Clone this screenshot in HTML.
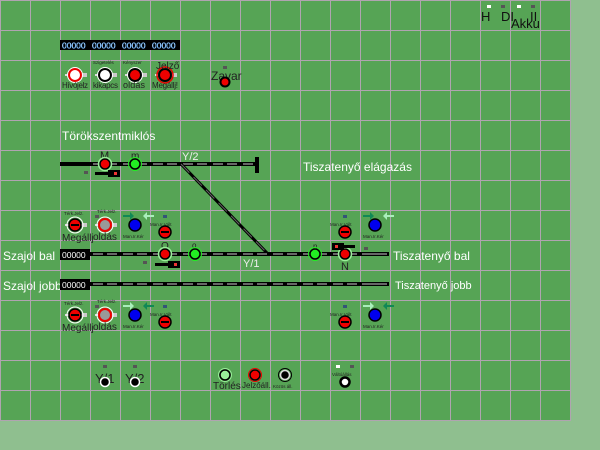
<!DOCTYPE html>
<html><head><meta charset="utf-8"><style>
html,body{margin:0;padding:0;background:#8fbf8f;width:600px;height:450px;overflow:hidden}
svg{display:block}
text{font-family:"Liberation Sans",sans-serif}
</style></head><body>
<svg width="600" height="450" viewBox="0 0 600 450" xmlns="http://www.w3.org/2000/svg">
<defs>
<g id="tr"><line x1="0" y1="0" x2="30" y2="0" stroke="#000" stroke-width="4"/><line x1="3" y1="0" x2="13" y2="0" stroke="#666" stroke-width="2"/><line x1="17" y1="0" x2="27" y2="0" stroke="#666" stroke-width="2"/></g>
<g id="sig"><line x1="-10" y1="0" x2="10" y2="0" stroke="#ddd" stroke-width="2"/><rect x="7" y="-2" width="5" height="4" fill="#ccc"/></g>
<g id="bar"><circle r="6" fill="#e00" stroke="#000" stroke-width="1.5"/><rect x="-4" y="-1" width="8" height="2" fill="#000"/></g>
</defs>
<rect x="0" y="0" width="571" height="421" fill="#56a455"/>
<path stroke="#b0a4b0" stroke-width="1" fill="none" d="M0.5 0V421M30.5 0V421M60.5 0V421M90.5 0V421M120.5 0V421M150.5 0V421M180.5 0V421M210.5 0V421M240.5 0V421M270.5 0V421M300.5 0V421M330.5 0V421M360.5 0V421M390.5 0V421M420.5 0V421M450.5 0V421M480.5 0V421M510.5 0V421M540.5 0V421M570.5 0V421M0 0.5H571M0 30.5H571M0 60.5H571M0 90.5H571M0 120.5H571M0 150.5H571M0 180.5H571M0 210.5H571M0 240.5H571M0 270.5H571M0 300.5H571M0 330.5H571M0 360.5H571M0 390.5H571M0 420.5H571"/>

<!-- top right -->
<rect x="487" y="5" width="4" height="3" fill="#fff"/><rect x="501" y="5" width="4" height="3" fill="#555"/>
<rect x="517" y="5" width="4" height="3" fill="#fff"/><rect x="531" y="5" width="4" height="3" fill="#555"/>
<text x="481" y="21" font-size="13" fill="#111">H</text>
<text x="501" y="21" font-size="13" fill="#111">DI</text>
<text x="530" y="21" font-size="13" fill="#111">II</text>
<text x="511" y="28" font-size="13" fill="#111">Akku</text>

<!-- counters -->
<rect x="60" y="40" width="120" height="10" fill="#000"/>
<g font-size="8.5" fill="#fff" stroke="#39f" stroke-width="0.3">
<text x="62" y="48.5">00000</text><text x="92" y="48.5">00000</text><text x="122" y="48.5">00000</text><text x="152" y="48.5">00000</text>
</g>

<!-- button row -->
<use href="#sig" x="75" y="75"/><circle cx="75" cy="75" r="6" fill="#fff" stroke="#e00" stroke-width="2"/><circle cx="75" cy="75" r="7.5" fill="none" stroke="#fff" stroke-width="1"/>
<use href="#sig" x="105" y="75"/><circle cx="105" cy="75" r="6" fill="#fff" stroke="#000" stroke-width="2"/><circle cx="105" cy="75" r="7.5" fill="none" stroke="#fff" stroke-width="1"/>
<use href="#sig" x="135" y="75"/><circle cx="135" cy="75" r="6" fill="#e00" stroke="#000" stroke-width="2"/><circle cx="135" cy="75" r="7.5" fill="none" stroke="#fff" stroke-width="1"/>
<use href="#sig" x="165" y="75"/><circle cx="165" cy="75" r="6" fill="#e00" stroke="#000" stroke-width="2"/><circle cx="165" cy="75" r="8" fill="none" stroke="#e00" stroke-width="1.5"/>
<g font-size="8" fill="#222"><text x="62" y="88" textLength="26">Hívójelz</text><text x="93" y="88" textLength="25">kikapcs</text><text x="123" y="88" font-size="9" textLength="22">oldás</text><text x="152" y="88" textLength="26">Megállj!</text></g>
<g font-size="4.5" fill="#222"><text x="93" y="64">Szigetelés</text><text x="123" y="64">Kényszer</text></g>
<text x="156" y="69" font-size="10" fill="#222">Jelző</text>
<rect x="223" y="66" width="4" height="3" fill="#555"/>
<text x="211" y="80" font-size="12" fill="#222">Zavar</text>
<circle cx="225" cy="82" r="4.5" fill="#e00" stroke="#000" stroke-width="2"/>

<text x="62" y="140" font-size="12" fill="#fff">Törökszentmiklós</text>
<text x="303" y="171" font-size="12" fill="#fff">Tiszatenyő elágazás</text>

<!-- top track -->
<line x1="60" y1="164" x2="90" y2="164" stroke="#000" stroke-width="4"/>
<use href="#tr" x="90" y="164"/><use href="#tr" x="120" y="164"/><use href="#tr" x="150" y="164"/><use href="#tr" x="180" y="164"/><use href="#tr" x="210" y="164"/>
<line x1="240" y1="164" x2="258" y2="164" stroke="#000" stroke-width="4"/><line x1="243" y1="164" x2="253" y2="164" stroke="#666" stroke-width="2"/>
<rect x="255" y="157" width="4" height="16" fill="#000"/>
<line x1="181" y1="164" x2="268" y2="254" stroke="#000" stroke-width="3"/>
<line x1="181" y1="164" x2="268" y2="254" stroke="#666" stroke-width="1" stroke-dasharray="12 6"/>
<text x="182" y="160" font-size="11" fill="#eee" font-family="Liberation Mono">Y/2</text>
<text x="100" y="159" font-size="11" fill="#222">M</text><text x="131" y="159" font-size="10" fill="#222">m</text>
<circle cx="105" cy="164" r="5" fill="#e00" stroke="#000" stroke-width="1.5"/><circle cx="105" cy="164" r="6.5" fill="none" stroke="#9e9" stroke-width="1.5"/>
<circle cx="135" cy="164" r="5" fill="#2e2" stroke="#000" stroke-width="1.5"/><circle cx="135" cy="164" r="6.5" fill="none" stroke="#2e2" stroke-width="1"/>
<rect x="84" y="171" width="4" height="3" fill="#555"/>
<rect x="95" y="172" width="25" height="3" fill="#000"/><rect x="108" y="170" width="12" height="7" fill="#000"/><rect x="114" y="172" width="3" height="3" fill="#e33"/>

<!-- upper controls row -->
<g font-size="4.5" fill="#222"><text x="64" y="215">Térk.Jelz.</text><text x="97" y="213">Térk.Jelz.</text><text x="150" y="226">Man.Ir.Vált</text><text x="123" y="238">Man.Ir.Kér</text><text x="330" y="226">Man.Ir.Vált</text><text x="363" y="238">Man.Ir.Kér</text></g>
<use href="#sig" x="75" y="225"/><use href="#bar" x="75" y="225"/><circle cx="75" cy="225" r="8" fill="none" stroke="#fff" stroke-width="1"/>
<use href="#sig" x="105" y="225"/><circle cx="105" cy="225" r="6" fill="#999" stroke="#e00" stroke-width="2"/><circle cx="105" cy="225" r="8" fill="none" stroke="#fff" stroke-width="1"/>
<text x="62" y="241" font-size="10" fill="#222">Megállj</text><text x="93" y="240" font-size="10" fill="#222">oldás</text>
<rect x="95" y="215" width="4" height="3" fill="#555"/>
<circle cx="135" cy="225" r="6" fill="#00e" stroke="#000" stroke-width="1.5"/>
<path d="M123 215h7v-3l4 4-4 4v-3h-7z" fill="#185"/><path d="M154 215h-7v-3l-4 4 4 4v-3h7z" fill="#aeb"/>
<rect x="163" y="215" width="4" height="3" fill="#357"/>
<use href="#bar" x="165" y="232"/>
<rect x="343" y="215" width="4" height="3" fill="#357"/>
<use href="#bar" x="345" y="232"/>
<circle cx="375" cy="225" r="6" fill="#00e" stroke="#000" stroke-width="1.5"/>
<path d="M363 215h7v-3l4 4-4 4v-3h-7z" fill="#185"/><path d="M394 215h-7v-3l-4 4 4 4v-3h7z" fill="#aeb"/>

<!-- middle track -->
<text x="3" y="260" font-size="12" fill="#fff">Szajol bal</text>
<rect x="60" y="249" width="30" height="11" fill="#000"/><text x="62" y="258" font-size="8.5" fill="#fff">00000</text>
<use href="#tr" x="90" y="254"/><use href="#tr" x="120" y="254"/><use href="#tr" x="150" y="254"/><use href="#tr" x="180" y="254"/><use href="#tr" x="210" y="254"/><use href="#tr" x="240" y="254"/><use href="#tr" x="270" y="254"/><use href="#tr" x="300" y="254"/><use href="#tr" x="330" y="254"/>
<line x1="360" y1="254" x2="389" y2="254" stroke="#000" stroke-width="4"/><line x1="362" y1="254" x2="387" y2="254" stroke="#666" stroke-width="2"/>
<text x="161" y="249" font-size="10" fill="#222">O</text><text x="192" y="248" font-size="8" fill="#222">o</text>
<circle cx="165" cy="254" r="5" fill="#e00" stroke="#000" stroke-width="1.5"/><circle cx="165" cy="254" r="6.5" fill="none" stroke="#9e9" stroke-width="1.5"/>
<circle cx="195" cy="254" r="5" fill="#2e2" stroke="#000" stroke-width="1.5"/><circle cx="195" cy="254" r="6.5" fill="none" stroke="#2e2" stroke-width="1"/>
<rect x="143" y="261" width="4" height="3" fill="#555"/>
<rect x="155" y="263" width="25" height="3" fill="#000"/><rect x="168" y="261" width="12" height="7" fill="#000"/><rect x="174" y="263" width="3" height="3" fill="#e33"/>
<text x="243" y="267" font-size="11" fill="#eee" font-family="Liberation Mono">Y/1</text>
<text x="313" y="249" font-size="8" fill="#222">n</text>
<circle cx="315" cy="254" r="5" fill="#2e2" stroke="#000" stroke-width="1.5"/><circle cx="315" cy="254" r="6.5" fill="none" stroke="#2e2" stroke-width="1"/>
<circle cx="345" cy="254" r="5" fill="#e00" stroke="#000" stroke-width="1.5"/><circle cx="345" cy="254" r="6.5" fill="none" stroke="#9e9" stroke-width="1.5"/>
<text x="341" y="270" font-size="11" fill="#222">N</text>
<rect x="332" y="243" width="12" height="7" fill="#000"/><rect x="332" y="245" width="23" height="3" fill="#000"/><rect x="335" y="245" width="3" height="3" fill="#e33"/>
<rect x="364" y="247" width="4" height="3" fill="#555"/>
<text x="393" y="260" font-size="12" fill="#fff">Tiszatenyő bal</text>

<!-- lower track -->
<text x="3" y="290" font-size="12" fill="#fff">Szajol jobb</text>
<rect x="60" y="279" width="30" height="11" fill="#000"/><text x="62" y="288" font-size="8.5" fill="#fff">00000</text>
<use href="#tr" x="90" y="284"/><use href="#tr" x="120" y="284"/><use href="#tr" x="150" y="284"/><use href="#tr" x="180" y="284"/><use href="#tr" x="210" y="284"/><use href="#tr" x="240" y="284"/><use href="#tr" x="270" y="284"/><use href="#tr" x="300" y="284"/><use href="#tr" x="330" y="284"/>
<line x1="360" y1="284" x2="389" y2="284" stroke="#000" stroke-width="4"/><line x1="362" y1="284" x2="387" y2="284" stroke="#666" stroke-width="2"/>
<text x="395" y="289" font-size="11" fill="#fff">Tiszatenyő jobb</text>

<!-- lower controls row -->
<g font-size="4.5" fill="#222"><text x="64" y="305">Térk.Jelz.</text><text x="97" y="303">Térk.Jelz.</text><text x="150" y="316">Man.Ir.Vált</text><text x="123" y="328">Man.Ir.Kér</text><text x="330" y="316">Man.Ir.Vált</text><text x="363" y="328">Man.Ir.Kér</text></g>
<use href="#sig" x="75" y="315"/><use href="#bar" x="75" y="315"/><circle cx="75" cy="315" r="8" fill="none" stroke="#fff" stroke-width="1"/>
<use href="#sig" x="105" y="315"/><circle cx="105" cy="315" r="6" fill="#999" stroke="#e00" stroke-width="2"/><circle cx="105" cy="315" r="8" fill="none" stroke="#fff" stroke-width="1"/>
<text x="62" y="331" font-size="10" fill="#222">Megállj</text><text x="93" y="330" font-size="10" fill="#222">oldás</text>
<rect x="95" y="305" width="4" height="3" fill="#555"/>
<circle cx="135" cy="315" r="6" fill="#00e" stroke="#000" stroke-width="1.5"/>
<path d="M123 305h7v-3l4 4-4 4v-3h-7z" fill="#aeb"/><path d="M154 305h-7v-3l-4 4 4 4v-3h7z" fill="#185"/>
<rect x="163" y="305" width="4" height="3" fill="#357"/>
<use href="#bar" x="165" y="322"/>
<rect x="343" y="305" width="4" height="3" fill="#357"/>
<use href="#bar" x="345" y="322"/>
<circle cx="375" cy="315" r="6" fill="#00e" stroke="#000" stroke-width="1.5"/>
<path d="M363 305h7v-3l4 4-4 4v-3h-7z" fill="#aeb"/><path d="M394 305h-7v-3l-4 4 4 4v-3h7z" fill="#185"/>

<!-- bottom -->
<rect x="103" y="365" width="4" height="3" fill="#555"/><rect x="133" y="365" width="4" height="3" fill="#555"/>
<text x="95" y="383" font-size="13" fill="#222">Y/1</text><text x="125" y="383" font-size="13" fill="#222">Y/2</text>
<circle cx="105" cy="382" r="4.5" fill="#000" stroke="#fff" stroke-width="1.5"/>
<circle cx="135" cy="382" r="4.5" fill="#000" stroke="#fff" stroke-width="1.5"/>
<circle cx="225" cy="375" r="5" fill="#9e9" stroke="#000" stroke-width="1.5"/><circle cx="225" cy="375" r="6.5" fill="none" stroke="#9e9" stroke-width="1"/>
<circle cx="255" cy="375" r="5" fill="#e00" stroke="#000" stroke-width="1.5"/><circle cx="255" cy="375" r="6.5" fill="none" stroke="#e00" stroke-width="1"/>
<circle cx="285" cy="375" r="4.5" fill="#000" stroke="#ddd" stroke-width="1.5"/><circle cx="285" cy="375" r="6.5" fill="none" stroke="#000" stroke-width="1"/>
<text x="213" y="389" font-size="10" fill="#222">Törlés</text>
<text x="242" y="388" font-size="8" fill="#222">Jelzőáll.</text>
<text x="273" y="388" font-size="4.5" fill="#222">Közös áll.</text>
<rect x="336" y="365" width="4" height="3" fill="#fff"/><rect x="350" y="365" width="4" height="3" fill="#555"/>
<text x="332" y="376" font-size="4.5" fill="#222">Váltóállás</text>
<circle cx="345" cy="382" r="4.5" fill="#fff" stroke="#000" stroke-width="2.5"/>
</svg>
</body></html>
